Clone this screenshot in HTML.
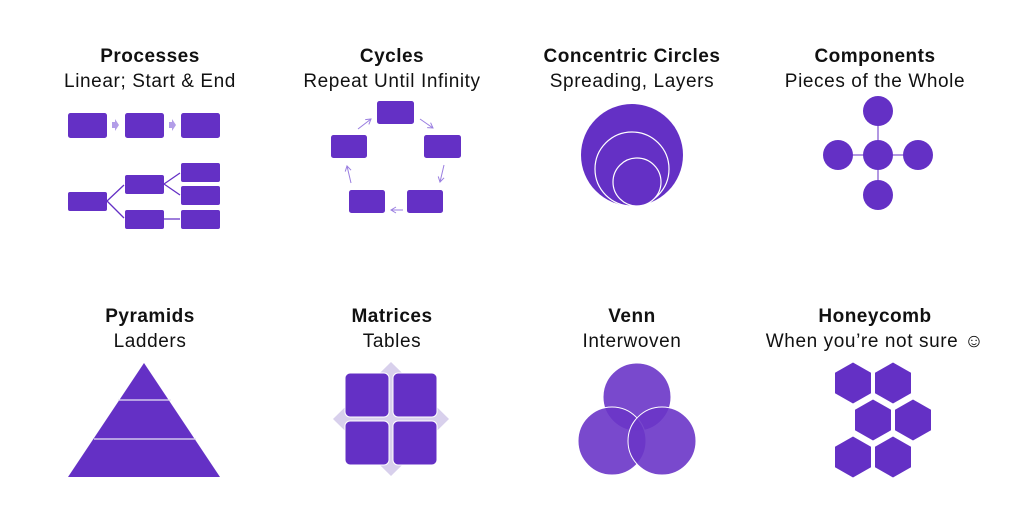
<!DOCTYPE html>
<html><head><meta charset="utf-8"><style>
html,body{margin:0;padding:0;background:#fff;width:1024px;height:515px;overflow:hidden}
text{font-family:"Liberation Sans","DejaVu Sans",sans-serif;fill:#111}
.t{font-weight:bold;font-size:19px;letter-spacing:0.5px}
.s{font-size:19px;letter-spacing:0.6px}
</style></head><body>
<svg width="1024" height="515" viewBox="0 0 1024 515">
<defs>
<marker id="ar" markerWidth="8" markerHeight="8" refX="6" refY="4" orient="auto"><path d="M1,1 L6,4 L1,7" fill="none" stroke="#9a7ee0" stroke-width="1"/></marker>
</defs>
<g text-anchor="middle">
<text class="t" x="150" y="62">Processes</text><text class="s" x="150" y="87">Linear; Start &amp; End</text>
<text class="t" x="392" y="62">Cycles</text><text class="s" x="392" y="87">Repeat Until Infinity</text>
<text class="t" x="632" y="62">Concentric Circles</text><text class="s" x="632" y="87">Spreading, Layers</text>
<text class="t" x="875" y="62">Components</text><text class="s" x="875" y="87">Pieces of the Whole</text>
<text class="t" x="150" y="322">Pyramids</text><text class="s" x="150" y="347">Ladders</text>
<text class="t" x="392" y="322">Matrices</text><text class="s" x="392" y="347">Tables</text>
<text class="t" x="632" y="322">Venn</text><text class="s" x="632" y="347">Interwoven</text>
<text class="t" x="875" y="322">Honeycomb</text><text class="s" x="875" y="347">When you’re not sure ☺</text>
</g>
<g fill="#6430c5">
<rect x="68" y="113" width="39" height="25" rx="2.5"/><rect x="125" y="113" width="39" height="25" rx="2.5"/><rect x="181" y="113" width="39" height="25" rx="2.5"/>
<path d="M112,122h3v-3l4,6l-4,6v-3h-3z M169,122h3v-3l4,6l-4,6v-3h-3z" fill="#b29de8"/>
<rect x="68" y="192" width="39" height="19" rx="2"/>
<rect x="125" y="175" width="39" height="19" rx="2"/><rect x="125" y="210" width="39" height="19" rx="2"/>
<rect x="181" y="163" width="39" height="19" rx="2"/><rect x="181" y="186" width="39" height="19" rx="2"/><rect x="181" y="210" width="39" height="19" rx="2"/>
<path d="M107,201L124,185M107,201L124,218M164,184L180,173M164,184L180,195M164,219L180,219" stroke="#6430c5" stroke-width="1.3" fill="none"/>
<rect x="377" y="101" width="37" height="23" rx="2.5"/><rect x="331" y="135" width="36" height="23" rx="2.5"/><rect x="424" y="135" width="37" height="23" rx="2.5"/>
<rect x="349" y="190" width="36" height="23" rx="2.5"/><rect x="407" y="190" width="36" height="23" rx="2.5"/>
<g stroke="#9a7ee0" stroke-width="1" fill="none" marker-end="url(#ar)">
<path d="M358,129L371,119"/><path d="M420,119L433,128"/><path d="M444,165L440,182"/><path d="M403,210L391,210"/><path d="M351,183L347,166"/>
</g>
<circle cx="632" cy="155" r="51"/>
<circle cx="632" cy="169" r="37" stroke="#fff" stroke-width="1.2"/>
<circle cx="637" cy="182" r="24" stroke="#fff" stroke-width="1.2"/>
<path d="M878,111V195M838,155H918" stroke="#6430c5" stroke-width="1"/>
<circle cx="878" cy="111" r="15"/><circle cx="878" cy="195" r="15"/><circle cx="838" cy="155" r="15"/><circle cx="918" cy="155" r="15"/><circle cx="878" cy="155" r="15"/>
<path d="M144,363L220,477H68Z"/>
<path d="M118,400H171M94,439H196" stroke="#e8e2f5" stroke-width="1.3"/>
<path d="M391,362L449,419L391,476L333,419Z" fill="#d8d0ec"/>
<rect x="345" y="373" width="44" height="44" rx="5" stroke="#fff" stroke-width="1"/><rect x="393" y="373" width="44" height="44" rx="5" stroke="#fff" stroke-width="1"/>
<rect x="345" y="421" width="44" height="44" rx="5" stroke="#fff" stroke-width="1"/><rect x="393" y="421" width="44" height="44" rx="5" stroke="#fff" stroke-width="1"/>
<g fill="#6a35c8" fill-opacity="0.9" stroke="#fff" stroke-width="1">
<circle cx="637" cy="397" r="34"/><circle cx="612" cy="441" r="34"/><circle cx="662" cy="441" r="34"/>
</g>
<path d="M0,-20.5L18,-10.25V10.25L0,20.5L-18,10.25V-10.25Z" transform="translate(853,383)"/>
<path d="M0,-20.5L18,-10.25V10.25L0,20.5L-18,10.25V-10.25Z" transform="translate(893,383)"/>
<path d="M0,-20.5L18,-10.25V10.25L0,20.5L-18,10.25V-10.25Z" transform="translate(873,420)"/>
<path d="M0,-20.5L18,-10.25V10.25L0,20.5L-18,10.25V-10.25Z" transform="translate(913,420)"/>
<path d="M0,-20.5L18,-10.25V10.25L0,20.5L-18,10.25V-10.25Z" transform="translate(853,457)"/>
<path d="M0,-20.5L18,-10.25V10.25L0,20.5L-18,10.25V-10.25Z" transform="translate(893,457)"/>
</g>
</svg>
</body></html>
